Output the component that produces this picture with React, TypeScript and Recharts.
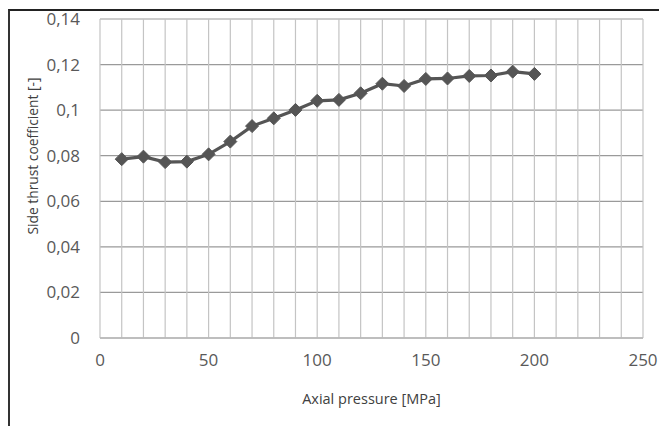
import { LineChart, Line, XAxis, YAxis, CartesianGrid, Label } from 'recharts'

const pressures = [10, 20, 30, 40, 50, 60, 70, 80, 90, 100, 110, 120, 130, 140, 150, 160, 170, 180, 190, 200]
const coefficients = [
  0.0785, 0.0796, 0.0772, 0.0774, 0.0806, 0.0862, 0.093, 0.0964, 0.1001, 0.1041,
  0.1045, 0.1074, 0.1116, 0.1106, 0.1137, 0.1139, 0.115, 0.1152, 0.1169, 0.1159,
]
const xTicks = [0, 10, 20, 30, 40, 50, 60, 70, 80, 90, 100, 110, 120, 130, 140, 150, 160, 170, 180, 190, 200, 210, 220, 230, 240, 250]
const yTicks = [0, 0.02, 0.04, 0.06, 0.08, 0.1, 0.12, 0.14]

const data = pressures.map((p, i) => ({ p, c: coefficients[i] }))

const font = '"Open Sans", "Liberation Sans", sans-serif'
const gray = '#595959'

const Diamond = (props: any) => {
  const { cx, cy } = props
  if (cx == null || cy == null) return null
  const r = 6.5
  return (
    <path
      d={`M${cx},${cy - r} L${cx + r},${cy} L${cx},${cy + r} L${cx - r},${cy} Z`}
      fill="#555"
      stroke="#555"
    />
  )
}

const YTitle = () => {
  const x = 32
  const y = 156
  return (
    <text
      x={x}
      y={y}
      transform={`rotate(-90, ${x}, ${y})`}
      textAnchor="middle"
      dominantBaseline="central"
      fill="#404040"
      fontSize={13.8}
      fontFamily={font}
    >
      Side thrust coefficient [-]
    </text>
  )
}

export default function App() {
  return (
    <div
      style={{
        position: 'absolute',
        left: 0,
        top: 0,
        width: 659,
        height: 426,
        background: '#fff',
        overflow: 'hidden',
      }}
    >
      <div
        style={{
          position: 'absolute',
          left: 8,
          top: 9,
          width: 660,
          height: 430,
          borderTop: '2px solid #222',
          borderLeft: '2px solid #333',
        }}
      />
      <div style={{ position: 'absolute', left: 0, top: 0 }}>
        <LineChart width={659} height={426} data={data} margin={{ top: 19, right: 16, left: 0, bottom: 0 }}>
          <CartesianGrid vertical={false} stroke="#9a9a9a" strokeWidth={1.2} />
          <CartesianGrid horizontal={false} stroke="#c4c4c4" strokeWidth={1.2} />
          <XAxis
            dataKey="p"
            type="number"
            domain={[0, 250]}
            ticks={xTicks}
            interval={0}
            tickFormatter={(v: number) => (v % 50 === 0 ? String(v) : '')}
            axisLine={{ stroke: '#b0b0b0' }}
            tickLine={false}
            tickSize={0}
            tickMargin={16}
            height={88}
            tick={{ fill: gray, fontSize: 17, fontFamily: font }}
          >
            <Label
              value="Axial pressure [MPa]"
              position="insideBottom"
              offset={22}
              fill="#404040"
              fontSize={14.5}
              fontFamily={font}
            />
          </XAxis>
          <YAxis
            type="number"
            domain={[0, 0.14]}
            ticks={yTicks}
            interval={0}
            tickFormatter={(v: number) => (v === 0 ? '0' : String(Number(v.toFixed(2))).replace('.', ','))}
            axisLine={false}
            tickLine={false}
            tickSize={0}
            tickMargin={20}
            width={100}
            tick={{ fill: gray, fontSize: 17, fontFamily: font }}
          >
            <Label content={<YTitle />} />
          </YAxis>
          <Line
            dataKey="c"
            stroke="#555"
            strokeWidth={3.2}
            dot={<Diamond />}
            activeDot={false}
            isAnimationActive={false}
          />
        </LineChart>
      </div>
    </div>
  )
}
